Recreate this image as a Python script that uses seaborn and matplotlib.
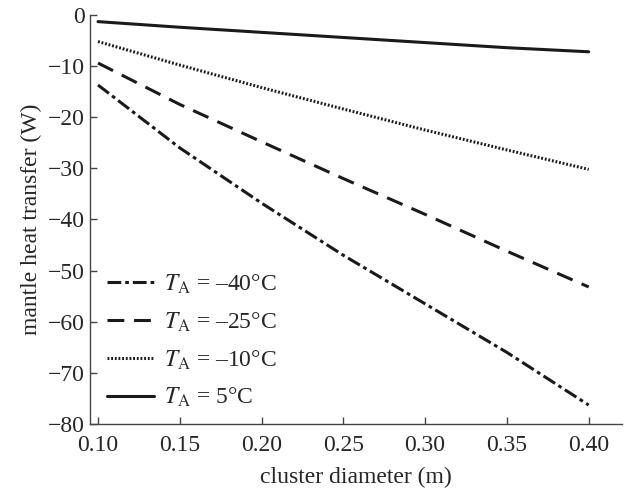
import matplotlib
matplotlib.use("Agg")
import matplotlib.pyplot as plt
import seaborn as sns
import pandas as pd

diameter = [0.10, 0.15, 0.20, 0.25, 0.30, 0.35, 0.40]
q_m40 = [-13.7, -26.0, -36.8, -47.0, -56.5, -66.0, -76.3]
q_m25 = [-9.4, -17.5, -24.8, -32.0, -39.0, -46.2, -53.2]
q_m10 = [-5.2, -9.8, -14.2, -18.4, -22.5, -26.4, -30.2]
q_p5 = [-1.3, -2.4, -3.4, -4.4, -5.4, -6.4, -7.2]
labels = [r"$T_\mathrm{A}$ = –40°C", r"$T_\mathrm{A}$ = –25°C",
          r"$T_\mathrm{A}$ = –10°C", r"$T_\mathrm{A}$ = 5°C"]
xticks = [0.10, 0.15, 0.20, 0.25, 0.30, 0.35, 0.40]
yticks = [0, -10, -20, -30, -40, -50, -60, -70, -80]

sns.set_theme(style="ticks")
plt.rcParams["font.family"] = ["Liberation Serif", "DejaVu Serif"]
plt.rcParams["mathtext.fontset"] = "stix"
plt.rcParams["axes.unicode_minus"] = True

fig = plt.figure(figsize=(6.28, 4.91), dpi=100)
ax = fig.add_axes([0.1433, 0.1365, 0.8467, 0.833])

styles = [(0, (4.5, 1.3, 1.2, 1.3)), (0, (5.5, 3.2)), (0, (0.6, 0.6)), "-"]
series = [q_m40, q_m25, q_m10, q_p5]
for vals, lab, ls in zip(series, labels, styles):
    df = pd.DataFrame({"d": diameter, "q": vals})
    sns.lineplot(data=df, x="d", y="q", ax=ax, color="#1a1a1a",
                 linestyle=ls, linewidth=2.2, label=lab)

ax.set_xlim(0.0951, 0.4202)
ax.set_ylim(-80, 0)
ax.set_xticks(xticks)
ax.set_xticklabels([f"{t:.2f}" for t in xticks])
ax.set_yticks(yticks)
ax.set_yticklabels([f"−{abs(t)}" if t < 0 else "0" for t in yticks])
ax.tick_params(direction="in", length=5, width=1, labelsize=17,
               color="#444444", pad=4)
ax.tick_params(axis="x", pad=8)
for s in ["top", "right"]:
    ax.spines[s].set_visible(False)
for s in ["left", "bottom"]:
    ax.spines[s].set_color("#444444")
    ax.spines[s].set_linewidth(1.0)
ax.set_xlabel("cluster diameter (m)", fontsize=17, labelpad=8)
ax.set_ylabel("mantle heat transfer (W)", fontsize=17, labelpad=4)

leg = ax.legend(loc="lower left", bbox_to_anchor=(0.0, -0.005), frameon=False,
                fontsize=17, handlelength=2.0, handletextpad=0.45,
                labelspacing=0.62, borderaxespad=0.3)

fig.savefig("out.png", dpi=100)
